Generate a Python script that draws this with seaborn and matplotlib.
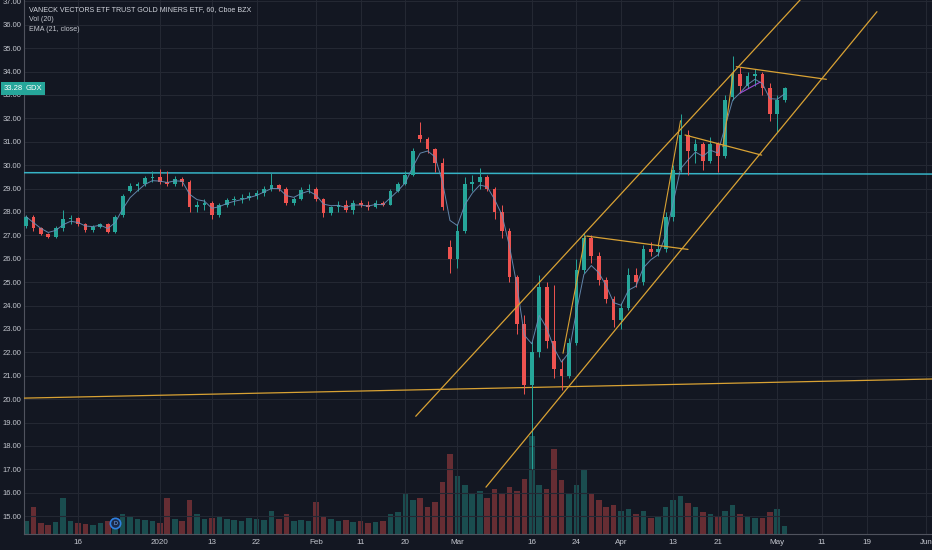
import matplotlib
matplotlib.use("Agg")
import numpy as np
import pandas as pd
import seaborn as sns
import matplotlib.pyplot as plt
import matplotlib.transforms as mtransforms

# x = trading-day number, day 0 = 16 Dec 2019 (weekends/holidays skipped)
first_day = -7

opens = [27.4, 27.8, 27.3, 27.05, 26.95, 27.3, 27.7, 27.75, 27.5, 27.25,
         27.35, 27.5, 27.15, 27.85, 28.9, 29.1, 29.2, 29.45, 29.5, 29.3,
         29.2, 29.4, 29.3, 28.2, 28.3, 28.4, 27.85, 28.3, 28.5, 28.55,
         28.6, 28.7, 28.8, 29.0, 29.15, 29.0, 28.4, 28.55, 28.95, 29.0,
         28.55, 27.95, 28.2, 28.3, 28.1, 28.4, 28.3, 28.2, 28.4, 28.3,
         28.9, 29.2, 29.6, 31.3, 31.1, 30.7, 30.1, 26.5, 26.0, 27.2,
         29.2, 29.3, 29.5, 29.0, 28.0, 27.2, 25.2, 23.2, 20.6, 22.0,
         24.8, 22.5, 21.3, 21.0, 22.4, 25.5, 26.9, 26.1, 25.1, 24.3,
         23.4, 23.9, 25.3, 25.0, 26.4, 26.3, 26.4, 27.8, 29.8, 31.3,
         30.6, 30.9, 30.2, 30.9, 30.4, 32.9, 33.9, 33.4, 33.8, 33.9,
         33.3, 32.2, 32.8]
highs = [27.85, 27.85, 27.35, 27.1, 27.4, 28.1, 27.85, 27.8, 27.55, 27.45,
         27.55, 27.55, 27.85, 28.75, 29.25, 29.3, 29.55, 29.75, 29.85, 29.75,
         29.55, 29.5, 29.35, 28.45, 28.55, 28.45, 28.4, 28.6, 28.7, 28.75,
         28.85, 28.95, 29.1, 29.65, 29.2, 29.05, 28.65, 29.05, 29.2, 29.05,
         28.6, 28.25, 28.45, 28.5, 28.5, 28.5, 28.45, 28.5, 28.45, 29.0,
         29.3, 29.75, 30.75, 31.85, 31.2, 30.75, 30.3, 26.8, 27.5, 29.5,
         29.6, 29.9, 29.6, 29.05, 28.3, 27.3, 25.3, 23.6, 22.5, 25.3,
         25.0, 24.9, 21.7, 22.6, 26.0, 27.1, 27.0, 26.3, 25.2, 24.4,
         24.1, 25.6, 25.6, 26.6, 26.7, 26.6, 28.0, 30.0, 32.2, 31.5,
         31.1, 31.0, 31.2, 31.0, 33.0, 34.65, 34.2, 34.0, 34.1, 34.0,
         33.5, 33.0, 33.35]
lows = [27.3, 27.2, 27.0, 26.9, 26.9, 27.2, 27.5, 27.4, 27.15, 27.15,
        27.3, 27.1, 27.1, 27.8, 28.85, 28.9, 29.1, 29.3, 29.2, 29.1,
        29.1, 29.1, 28.0, 28.0, 28.1, 27.7, 27.8, 28.2, 28.3, 28.4,
        28.5, 28.55, 28.7, 28.9, 28.9, 28.3, 28.3, 28.5, 28.8, 28.45,
        27.8, 27.85, 28.0, 28.0, 27.9, 28.2, 28.1, 28.15, 28.25, 28.3,
        28.85, 29.15, 29.55, 31.0, 30.5, 29.7, 28.1, 25.4, 25.6, 27.1,
        28.9, 29.0, 28.9, 27.7, 26.9, 25.0, 22.8, 20.2, 17.0, 21.8,
        22.2, 20.9, 20.4, 20.9, 22.3, 25.4, 25.8, 24.9, 24.1, 23.1,
        23.0, 23.8, 24.8, 24.9, 26.1, 26.1, 26.3, 27.6, 29.7, 29.6,
        30.1, 29.8, 30.1, 29.7, 30.3, 32.8, 33.1, 33.3, 33.4, 33.0,
        31.9, 31.4, 32.7]
closes = [27.8, 27.3, 27.05, 26.95, 27.3, 27.7, 27.75, 27.5, 27.25, 27.35,
          27.5, 27.15, 27.8, 28.7, 29.1, 29.2, 29.45, 29.5, 29.3, 29.2,
          29.4, 29.3, 28.2, 28.3, 28.4, 27.85, 28.3, 28.5, 28.55, 28.6,
          28.7, 28.8, 29.0, 29.15, 29.0, 28.4, 28.55, 28.95, 29.0, 28.55,
          27.95, 28.2, 28.3, 28.1, 28.4, 28.3, 28.2, 28.4, 28.3, 28.9,
          29.2, 29.6, 30.6, 31.1, 30.7, 30.1, 28.2, 26.0, 27.2, 29.2,
          29.3, 29.5, 29.0, 28.0, 27.2, 25.2, 23.2, 20.6, 22.0, 24.8,
          22.5, 21.3, 21.0, 22.4, 25.5, 26.9, 26.1, 25.1, 24.3, 23.4,
          23.9, 25.3, 25.0, 26.4, 26.3, 26.4, 27.8, 29.8, 31.3, 30.6,
          30.9, 30.2, 30.9, 30.4, 32.8, 33.9, 33.4, 33.8, 33.9, 33.3,
          32.2, 32.8, 33.28]
volumes = [14, 30, 12, 10, 13, 40, 14, 12, 11, 10,
           12, 14, 18, 22, 20, 16, 15, 14, 12, 40,
           16, 14, 38, 22, 16, 18, 20, 16, 15, 14,
           18, 16, 15, 26, 16, 22, 14, 15, 14, 36,
           20, 16, 14, 15, 13, 14, 12, 13, 14, 22,
           24, 45, 38, 40, 30, 36, 58, 90, 65, 55,
           45, 48, 40, 50, 46, 52, 48, 62, 110, 55,
           50, 95, 60, 45, 55, 72, 45, 38, 30, 32,
           25, 28, 22, 26, 18, 20, 30, 38, 42, 34,
           30, 24, 22, 20, 26, 32, 22, 20, 18, 18,
           24, 28, 9]

tick_days = [0, 11, 18, 24, 32, 38, 44, 51, 61, 67, 73, 80, 86, 94, 100, 106, 114]
tick_labels = ["16", "2020", "13", "22", "Feb", "11", "20", "Mar", "16", "24",
               "Apr", "13", "21", "May", "11", "19", "Jun"]

# hand-drawn lines on the chart (trading day, price)
level_cyan_days, level_cyan_prices = [-8, 116], [29.68, 29.62]
level_gold_days, level_gold_prices = [-8, 116], [20.04, 20.87]
chan_upper_days, chan_upper_prices = [45.4, 99.5], [19.27, 37.9]
chan_lower_days, chan_lower_prices = [54.84, 107.4], [16.24, 36.56]
flag_days = [[68.4, 82.0], [81.6, 91.9], [88.5, 100.6]]
flag_prices = [[26.97, 26.40], [31.29, 30.43], [34.21, 33.67]]
leg_days = [[65.2, 68.2], [78.0, 81.0], [86.7, 88.1]]
leg_prices = [[21.96, 26.97], [26.55, 31.9], [30.79, 33.99]]
wedge_days, wedge_prices = [89.0, 91.7], [33.08, 33.55]
dividend_day = 5
last_price = 33.28

BG = "#131722"
GRID = "#242833"
TXT = "#c3c6ce"
UP, DOWN = "#26a69a", "#ef5350"
GOLD = "#d9a234"

sns.set_theme(style="dark", rc={"axes.facecolor": BG, "figure.facecolor": BG})
plt.rcParams["font.family"] = ["Liberation Sans", "DejaVu Sans"]

df = pd.DataFrame({"open": opens, "high": highs, "low": lows,
                   "close": closes, "volume": volumes})
df["day"] = np.arange(first_day, first_day + len(df))
df["up"] = df["close"] >= df["open"]
df["ema"] = df["close"].ewm(span=3, adjust=False).mean()
colors = np.where(df["up"], UP, DOWN)

fig = plt.figure(figsize=(9.32, 5.5), dpi=100)
ax = fig.add_axes([24 / 932, 16.3 / 550, 1 - 24 / 932, 533.7 / 550])
axv = ax.twinx()
ax.set_zorder(axv.get_zorder() + 1)
ax.patch.set_visible(False)
axv.set_facecolor(BG)

# volume underneath
axv.bar(df["day"], df["volume"], width=0.75, color=colors, alpha=0.38, linewidth=0)
axv.set_ylim(0, 600)
axv.set_yticks([])
axv.grid(False)
for s in axv.spines.values():
    s.set_visible(False)

ax.set_xlim(-7.26, 114.8)
ax.set_ylim(14.25, 37.06)
ax.set_yticks(np.arange(15, 38, 1))
ax.set_yticklabels([f"{v:.2f}" for v in np.arange(15, 38, 1)])
ax.set_xticks(tick_days)
ax.set_xticklabels(tick_labels)
ax.tick_params(axis="both", labelsize=5.5, colors=TXT, length=0)
ax.tick_params(axis="y", pad=2)
ax.tick_params(axis="x", pad=4, labelsize=5.8)
ax.grid(True, color=GRID, linewidth=0.8)
for s in ["top", "right"]:
    ax.spines[s].set_visible(False)
for s in ["left", "bottom"]:
    ax.spines[s].set_color("#50535e")
    ax.spines[s].set_linewidth(0.8)

# horizontal levels
ax.plot(level_cyan_days, level_cyan_prices, color="#36b3c6", lw=1.1, zorder=3)
ax.plot(level_gold_days, level_gold_prices, color=GOLD, lw=0.9, zorder=3)

# candles
ax.vlines(df["day"], df["low"], df["high"], colors=colors, lw=0.7, zorder=4)
body = (df["close"] - df["open"]).abs().clip(lower=0.04)
ax.bar(df["day"], body, bottom=df[["open", "close"]].min(axis=1), width=0.5,
       color=colors, linewidth=0, zorder=5)
sns.lineplot(data=df, x="day", y="ema", ax=ax, color="#6a90b8", lw=0.7,
             alpha=0.9, zorder=6)
ax.set_xlabel("")
ax.set_ylabel("")

# drawn trend lines
ax.plot(chan_upper_days, chan_upper_prices, color=GOLD, lw=0.9, zorder=7)
ax.plot(chan_lower_days, chan_lower_prices, color=GOLD, lw=0.9, zorder=7)
for d, p in zip(flag_days, flag_prices):
    ax.plot(d, p, color=GOLD, lw=0.9, zorder=7)
for d, p in zip(leg_days, leg_prices):
    ax.plot(d, p, color=GOLD, lw=0.8, zorder=7)
ax.plot(wedge_days, wedge_prices, color="#9c4fd6", lw=0.8, zorder=7)

# last price tag on the axis
blend = mtransforms.blended_transform_factory(ax.transAxes, ax.transData)
ax.text(-0.001, last_price, f"{last_price:.2f}", transform=blend, ha="right",
        va="center", fontsize=5.5, color="white", zorder=10, clip_on=False,
        bbox=dict(boxstyle="square,pad=0.35", fc=UP, ec="none"))
ax.text(0.002, last_price, "GDX", transform=blend, ha="left", va="center",
        fontsize=5.5, color="white", zorder=10,
        bbox=dict(boxstyle="square,pad=0.35", fc=UP, ec="none"))

# dividend marker
blend_x = mtransforms.blended_transform_factory(ax.transData, ax.transAxes)
ax.scatter([dividend_day], [0.02], transform=blend_x, s=55, marker="o",
           facecolor="#1b2a4a", edgecolor="#2f7fe0", linewidth=1.2,
           zorder=9, clip_on=False)
ax.text(dividend_day, 0.02, "D", transform=blend_x, ha="center", va="center",
        fontsize=4, color="#7fb3ff", zorder=10)

# legend texts top-left
fig.text(29 / 932, 1 - 9.5 / 550, "VANECK VECTORS ETF TRUST GOLD MINERS ETF, 60, Cboe BZX",
         fontsize=5.1, color="#d1d4dc", va="center")
fig.text(29 / 932, 1 - 19.5 / 550, "Vol (20)", fontsize=5.1, color=TXT, va="center")
fig.text(29 / 932, 1 - 29.5 / 550, "EMA (21, close)", fontsize=5.1, color=TXT, va="center")

fig.savefig("out.png", dpi=100, facecolor=BG)
